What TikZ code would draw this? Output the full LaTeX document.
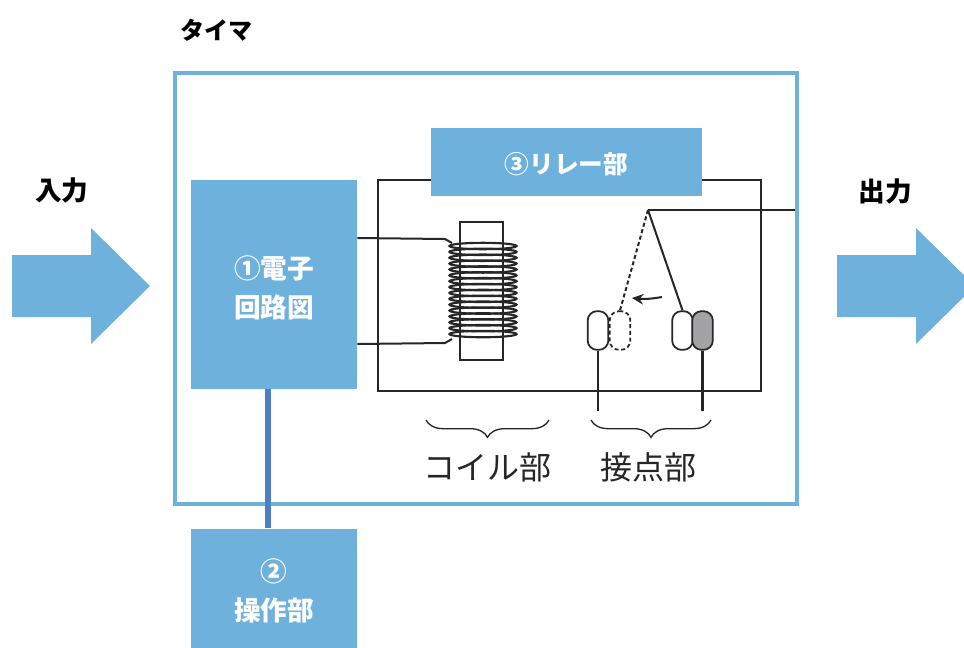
\documentclass[tikz,border=0pt]{standalone}
\usepackage{xcolor}
\usepackage{fontspec}
\setmainfont{Noto Sans CJK JP}
\usetikzlibrary{arrows.meta}
\usetikzlibrary{decorations.pathreplacing}
\definecolor{boxblue}{HTML}{6EB1DC}
\definecolor{linkblue}{HTML}{4A7FC6}
\definecolor{contactgray}{HTML}{A3A3A6}
\definecolor{inkgray}{HTML}{262626}
\newcommand{\boxlabel}[1]{\raisebox{-4pt}[\height][\depth]{\begin{tabular}{@{}c@{}}#1\end{tabular}}}
\tikzstyle{bluebox}=[fill=boxblue, shape=rectangle, text=white, font=\bfseries\fontsize{20}{29.5}\selectfont, inner sep=0pt]
\tikzstyle{contact}=[draw=inkgray, line width=1.3pt, shape=rectangle, rounded corners=7pt, fill=white, minimum width=15.5pt, minimum height=29pt, inner sep=0pt]
\tikzstyle{wire}=[draw=inkgray, line width=1.5pt]
\tikzstyle{heading}=[black, font=\bfseries\fontsize{20}{24}\selectfont, inner sep=0pt]
\tikzstyle{partname}=[inkgray, font=\fontsize{24}{28}\selectfont, inner sep=0pt]
\tikzstyle{partbrace}=[draw=inkgray, line width=1pt, decorate, decoration={brace, mirror, amplitude=13pt, aspect=0.5}]

\begin{document}
\begin{tikzpicture}[x=0.75pt, y=-0.75pt]
\clip (0,0) rectangle (964,647);

\foreach \ax in {12,837}
  \fill[boxblue] (\ax,255) -- ++(79,0) -- ++(0,-27) -- ++(59,58) -- ++(-59,58) -- ++(0,-27) -- ++(-79,0) -- cycle;

\node [heading, font=\bfseries\fontsize{18}{22}\selectfont] (timer) at (216,30) {タイマ};
\node [heading] (input) at (62,190) {入力};
\node [heading] (output) at (885,191) {出力};

\node [draw=boxblue, line width=3pt, minimum width=466.5pt, minimum height=323.25pt] (frame) at (486,288.5) {};
\node [wire, minimum width=287.25pt, minimum height=158.25pt] (relayframe) at (569.5,285.5) {};
\node [bluebox, font=\bfseries\fontsize{18.5}{22}\selectfont, minimum width=203.25pt, minimum height=51pt] (relay) at (566.5,162) {\boxlabel{③リレー部}};
\node [bluebox, minimum width=124.5pt, minimum height=156.75pt] (circuit) at (274,284.5) {\boxlabel{①電子\\回路図}};
\node [bluebox, minimum width=124.5pt, minimum height=89.25pt] (panel) at (274,588) {\boxlabel{②\\操作部}};

\coordinate (linktop) at (268,389);
\draw[linkblue, line width=4.5pt] (linktop) -- (linktop |- panel.north);

% coil
\foreach \turn in {0,...,15}
  \draw[inkgray, line width=1.6pt] (483,{246+\turn*5.87}) ellipse [x radius=33.5, y radius=3.2];
\node [draw=inkgray, line width=1.3pt, minimum width=32.25pt, minimum height=103.5pt] (core) at (481.5,291) {};
\coordinate (coiltop) at (452,243);
\coordinate (coilbottom) at (452,339);
\draw[wire] (circuit.east |- 0,238) -- (445,239) -- (coiltop);
\draw[wire] (circuit.east |- 0,344) -- (445,343) -- (coilbottom);

% contacts
\coordinate (pivot) at (648,210);
\node [contact] (fixedleft) at (598,330.5) {};
\node [contact, densely dashed] (moved) at (620,330.5) {};
\node [contact] (moving) at (682.5,330.5) {};
\node [contact, fill=contactgray] (fixedright) at (702.5,330.5) {};
\coordinate (stemleft) at (598,411);
\coordinate (stemright) at (702.5,411);
\coordinate (outend) at (795,210);
\coordinate (arrowstart) at (662,297);
\coordinate (arrowend) at (632,298);

\draw[wire] (pivot) -- (outend);
\draw[wire] (pivot) -- (moving.north);
\draw[wire, densely dashed] (pivot) -- (moved.north);
\draw[wire, line width=2pt] (fixedleft.south) -- (stemleft);
\draw[wire, line width=2pt] (fixedright.south) -- (stemright);
\draw[-{Stealth[length=0.3cm, width=0.28cm]}, wire] (arrowstart) to[bend left=8] (arrowend);

\coordinate (coilbracestart) at (426,420);
\coordinate (coilbraceend) at (549,420);
\coordinate (contactbracestart) at (591,420);
\coordinate (contactbraceend) at (711,420);
\draw[partbrace] (coilbracestart) -- (coilbraceend);
\draw[partbrace] (contactbracestart) -- (contactbraceend);

\node [partname] (coilname) at (487,467) {コイル部};
\node [partname] (contactname) at (648,467) {接点部};
\end{tikzpicture}
\end{document}
